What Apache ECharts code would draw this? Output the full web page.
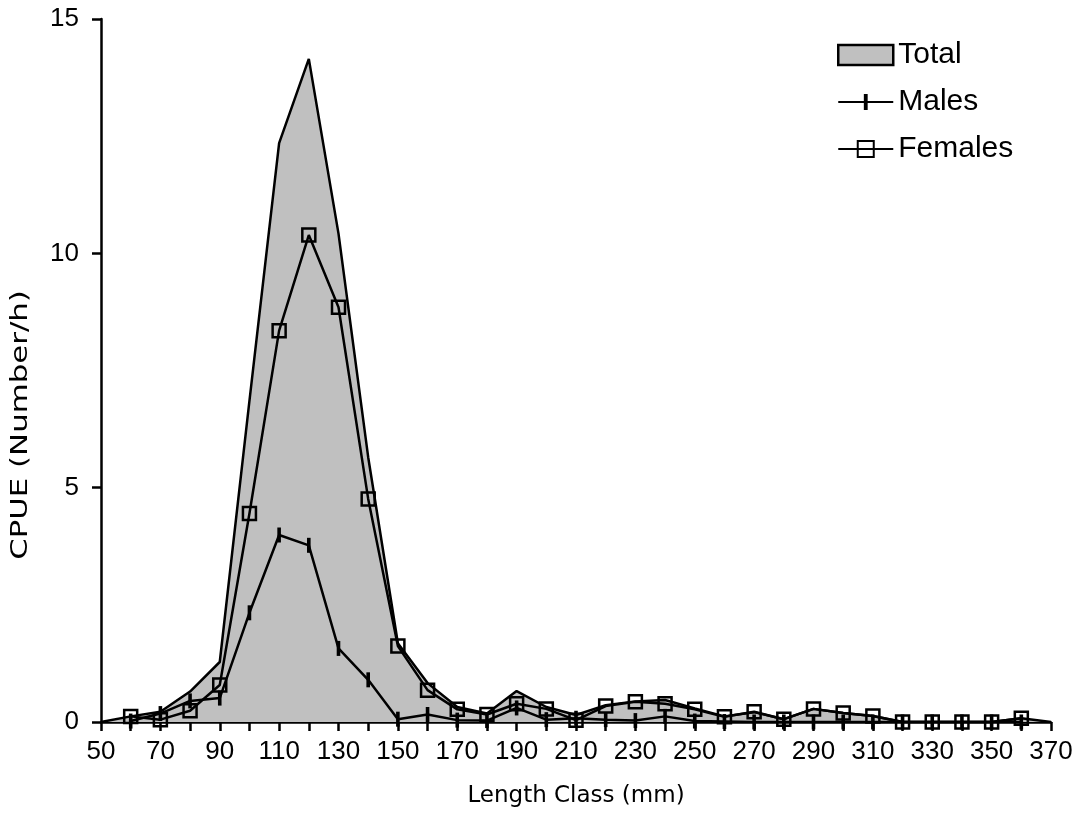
<!DOCTYPE html>
<html>
<head>
<meta charset="utf-8">
<script src="https://cdn.jsdelivr.net/npm/echarts@6/dist/echarts.min.js"></script>
<style>
html,body{margin:0;padding:0;background:#fff;}
#chart{width:1081px;height:829px;}
</style>
</head>
<body>
<div id="chart"></div>
<script>
const lengthClass = [50,60,70,80,90,100,110,120,130,140,150,160,170,180,190,200,210,220,230,240,250,260,270,280,290,300,310,320,330,340,350,360,370];
const totalCPUE  = [0,0.12,0.22,0.65,1.28,6.85,12.35,14.15,10.42,5.65,1.68,0.83,0.32,0.18,0.66,0.32,0.15,0.36,0.44,0.47,0.29,0.12,0.21,0.06,0.28,0.19,0.13,0,0,0,0,0.08,0];
const malesCPUE  = [null,0.02,0.18,0.45,0.51,2.33,3.99,3.77,1.57,0.9,0.06,0.16,0.04,0.03,0.3,0.05,0.08,0.05,0.03,0.12,0.02,0.01,0,0,0,0,0,0,0,0,0,0,null];
const femalesCPUE= [null,0.12,0.05,0.24,0.79,4.45,8.35,10.39,8.85,4.76,1.62,0.68,0.27,0.16,0.39,0.28,0.04,0.34,0.43,0.39,0.27,0.11,0.22,0.06,0.28,0.19,0.13,0,0,0,0,0.08,null];
const xLabelStep = 20;

function pairs(arr){
  const out = [];
  for (let i = 0; i < lengthClass.length; i++) {
    if (arr[i] !== null) out.push([lengthClass[i], arr[i]]);
  }
  return out;
}

const chart = echarts.init(document.getElementById('chart'), null, {renderer:'canvas'});
const tickFont = 'Liberation Sans';
const titleFont = 'DejaVu Sans';
const maleSymbol = 'path://M0,0 M10,10 M3.8,0 h2.4 v10 h-2.4 Z';

chart.setOption({
  animation: false,
  backgroundColor: '#ffffff',
  grid: {left: 101, right: 30, top: 19, bottom: 107, containLabel: false},
  legend: {
    orient: 'vertical',
    left: 832,
    top: 35,
    itemWidth: 55,
    itemHeight: 20,
    itemGap: 17,
    textStyle: {fontFamily: tickFont, fontSize: 30, color: '#000', lineHeight: 30},
    data: [
      {name: 'Total', icon: 'rect', itemStyle: {color: '#c0c0c0', borderColor: '#000', borderWidth: 2.5}},
      {name: 'Males'},
      {name: 'Females'}
    ]
  },
  xAxis: {
    type: 'value',
    min: 50,
    max: 370,
    interval: 10,
    splitLine: {show: false},
    axisLine: {show: true, onZero: false, lineStyle: {color: '#000', width: 2.5}},
    axisTick: {show: true, inside: false, length: 9, lineStyle: {color: '#000', width: 2.5}},
    axisLabel: {
      color: '#000', fontFamily: tickFont, fontSize: 26, margin: 17,
      formatter: function(v){ return ((v - 50) % xLabelStep === 0) ? String(v) : ''; }
    },
    name: 'Length Class (mm)',
    nameLocation: 'middle',
    nameGap: 63,
    nameTextStyle: {color: '#000', fontFamily: titleFont, fontSize: 23}
  },
  yAxis: {
    type: 'value',
    min: 0,
    max: 15,
    interval: 5,
    splitLine: {show: false},
    axisLine: {show: true, lineStyle: {color: '#000', width: 2.5}},
    axisTick: {show: true, inside: false, length: 9, lineStyle: {color: '#000', width: 2.5}},
    axisLabel: {color: '#000', fontFamily: tickFont, fontSize: 26, margin: 22}
  },
  graphic: [{
    type: 'text',
    x: 21,
    y: 425,
    rotation: Math.PI / 2,
    scaleX: 1.34,
    style: {
      text: 'CPUE (Number/h)',
      font: '23px "DejaVu Sans"',
      fill: '#000',
      align: 'center',
      verticalAlign: 'middle',
      textAlign: 'center',
      textVerticalAlign: 'middle'
    }
  }],
  series: [
    {
      name: 'Total',
      type: 'line',
      data: pairs(totalCPUE),
      showSymbol: false,
      symbol: 'none',
      itemStyle: {color: '#c0c0c0', borderColor: '#000'},
      lineStyle: {color: '#000', width: 2.5},
      areaStyle: {color: '#c0c0c0', opacity: 1},
      z: 1
    },
    {
      name: 'Males',
      type: 'line',
      data: pairs(malesCPUE),
      symbol: maleSymbol,
      symbolSize: 15,
      itemStyle: {color: '#000', borderWidth: 0},
      lineStyle: {color: '#000', width: 2.5},
      z: 2
    },
    {
      name: 'Females',
      type: 'line',
      data: pairs(femalesCPUE),
      symbol: 'rect',
      symbolSize: 13,
      itemStyle: {color: 'rgba(0,0,0,0)', borderColor: '#000', borderWidth: 2.5},
      lineStyle: {color: '#000', width: 2.5},
      z: 3
    }
  ]
});
</script>
</body>
</html>
